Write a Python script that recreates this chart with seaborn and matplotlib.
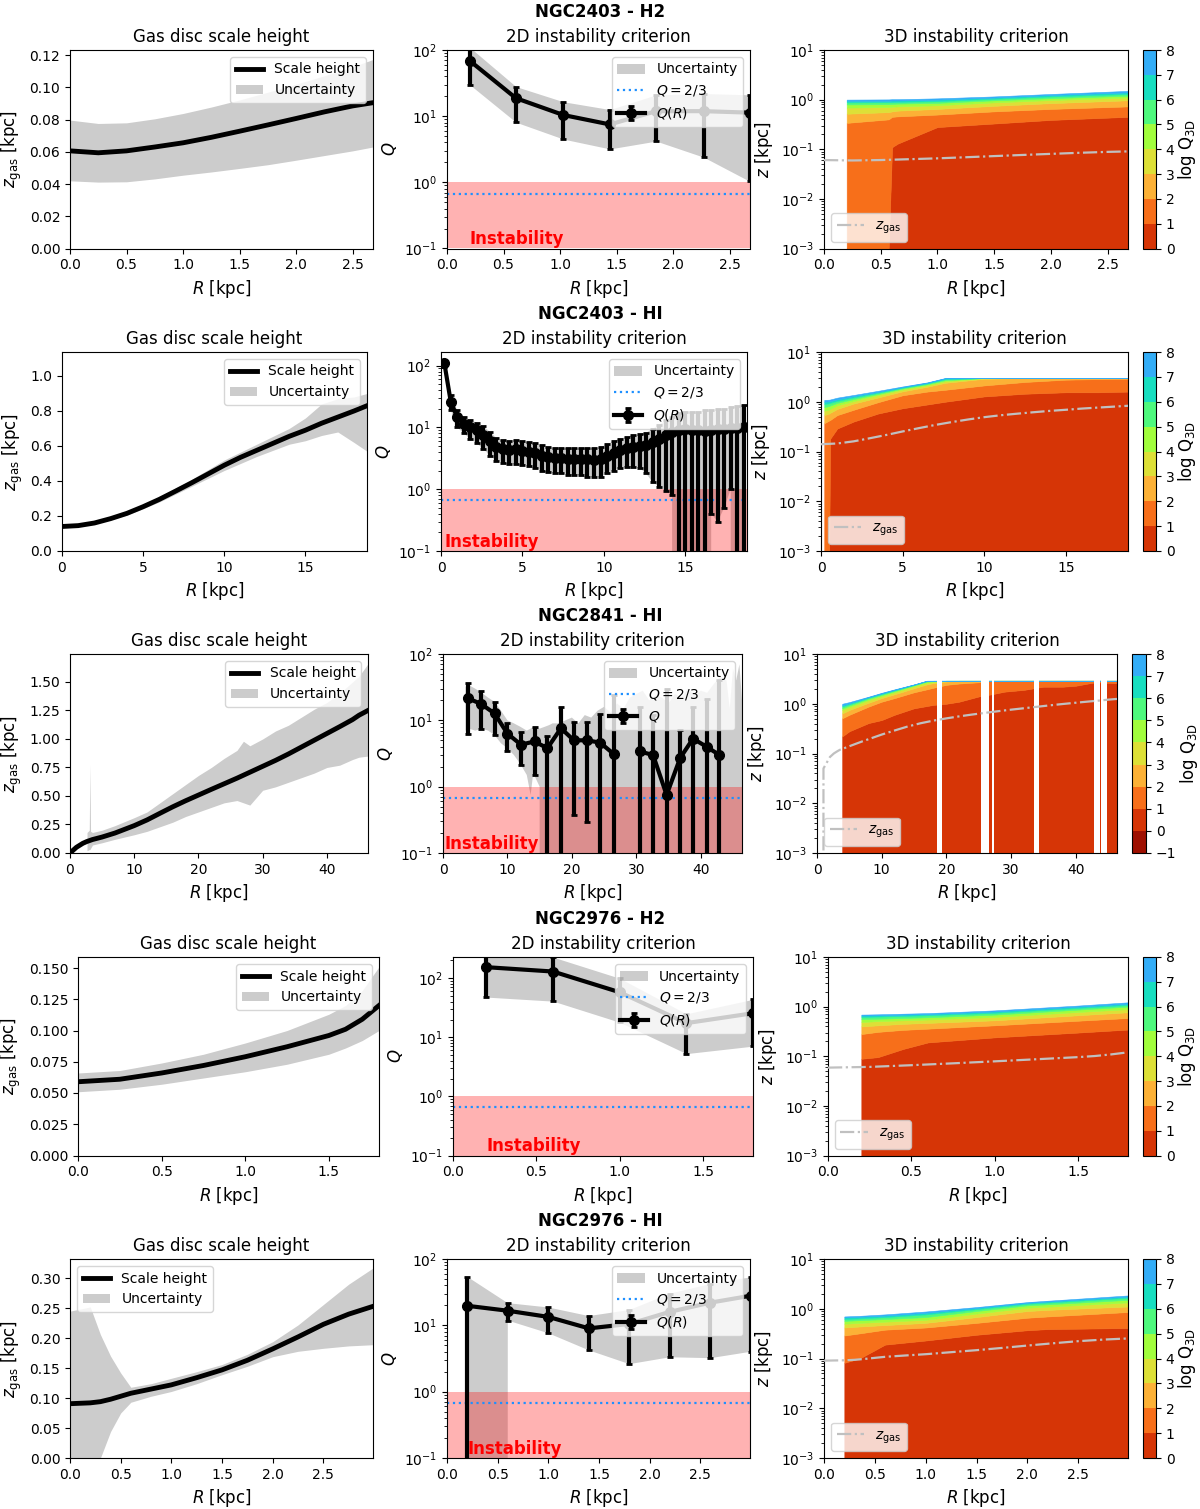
import numpy as np
import matplotlib
matplotlib.use('Agg')
import matplotlib.pyplot as plt
from matplotlib.colors import ListedColormap, BoundaryNorm, Normalize
from matplotlib.cm import ScalarMappable
from matplotlib.ticker import MultipleLocator
import seaborn as sns

plt.rcParams['font.family'] = ['DejaVu Sans']
plt.rcParams['axes.titlesize'] = 12
plt.rcParams['axes.labelsize'] = 12
plt.rcParams['legend.fontsize'] = 10

nan = np.nan

# ---------------------------------------------------------------- NGC2403 - H2
g1_r = [0, 0.25, 0.5, 0.75, 1.0, 1.25, 1.5, 1.75, 2.0, 2.25, 2.5, 2.68]
g1_z = [0.0606, 0.0594, 0.0606, 0.0630, 0.0656, 0.0690, 0.0728, 0.0767, 0.0807, 0.0848, 0.0885, 0.0905]
g1_zhi = [0.0797, 0.0776, 0.0780, 0.0805, 0.0838, 0.0878, 0.0922, 0.0970, 0.1020, 0.1072, 0.1128, 0.1173]
g1_zlo = [0.0420, 0.0412, 0.0414, 0.0432, 0.0455, 0.0475, 0.0497, 0.0520, 0.0548, 0.0577, 0.0606, 0.0630]
g1_qr = [0.2, 0.61, 1.03, 1.44, 1.85, 2.27, 2.68]
g1_q = [69, 18.7, 10.4, 7.5, 11.9, 11.9, 11.3]
g1_qhi = [110, 28, 16.5, 12.6, 21, 22, 21]
g1_qlo = [30, 8.1, 4.5, 3.2, 4.2, 2.4, 1.03]
g1_r3 = [0.2, 0.57, 0.6, 0.65, 1.0, 1.5, 2.0, 2.68]
g1_zlev = [
    [1e-3, 1e-3, 0.11, 0.13, 0.28, 0.33, 0.39, 0.45],
    [0.34, 0.40, 0.45, 0.46, 0.50, 0.58, 0.65, 0.73],
    [0.52, 0.56, 0.58, 0.60, 0.65, 0.75, 0.85, 0.97],
    [0.69, 0.71, 0.72, 0.73, 0.77, 0.88, 0.98, 1.10],
    [0.80, 0.81, 0.82, 0.83, 0.86, 0.97, 1.07, 1.20],
    [0.88, 0.89, 0.89, 0.90, 0.93, 1.04, 1.16, 1.30],
    [0.95, 0.95, 0.96, 0.96, 1.00, 1.10, 1.24, 1.40],
    [1.00, 1.01, 1.02, 1.02, 1.06, 1.16, 1.30, 1.50],
]

# ---------------------------------------------------------------- NGC2403 - HI
g2_r = [0, 1, 2, 3, 4, 5, 6, 7, 8, 9, 10, 11, 12, 13, 14, 15, 16, 17, 18, 18.8]
g2_z = [0.140, 0.145, 0.160, 0.185, 0.215, 0.253, 0.295, 0.342, 0.390, 0.440, 0.490,
        0.535, 0.575, 0.615, 0.655, 0.690, 0.730, 0.765, 0.800, 0.830]
g2_zhi = [0.145, 0.150, 0.170, 0.190, 0.225, 0.265, 0.310, 0.360, 0.410, 0.465, 0.520,
          0.565, 0.610, 0.655, 0.700, 0.760, 0.840, 0.870, 0.880, 0.900]
g2_zlo = [0.135, 0.140, 0.155, 0.180, 0.205, 0.242, 0.280, 0.325, 0.370, 0.415, 0.460,
          0.500, 0.540, 0.575, 0.610, 0.630, 0.660, 0.680, 0.620, 0.570]
g2_qr = [0.2, 0.6, 1.0, 1.4, 1.8, 2.2, 2.6, 3.0, 3.4, 3.8, 4.2, 4.6, 5.0, 5.4, 5.8, 6.2,
         6.6, 7.0, 7.4, 7.8, 8.2, 8.6, 9.0, 9.4, 9.8, 10.2, 10.6, 11.0, 11.4, 11.8, 12.2,
         12.6, 13.0, 13.4, 13.8, 14.2, 14.6, 15.0, 15.4, 15.8, 16.2, 16.6, 17.0, 17.4,
         17.8, 18.2, 18.6]
g2_q = [112, 26, 14.5, 11.5, 10, 9, 7.5, 6, 4.8, 4.4, 4.3, 4.4, 4.2, 4.0, 3.8, 3.5,
        3.3, 3.2, 3.2, 3.1, 3.1, 3.1, 3.1, 3.0, 3.1, 3.4, 3.9, 4.3, 4.6, 4.8, 5.0,
        5.2, 5.8, 6.5, 7.6, 8.4, 9.0, 9.3, 9.2, 9.0, 8.9, 9.2, 9.4, 9.5,
        9.6, 9.8, 10.0]
g2_qhi = [125, 33, 19, 15, 13, 12, 10.5, 8.5, 6.8, 6.2, 6.1, 6.3, 6.0, 5.8, 5.5, 5.1,
          4.8, 4.7, 4.7, 4.6, 4.6, 4.6, 4.7, 4.6, 4.8, 5.3, 6.0, 6.6, 7.0, 7.4, 7.8,
          8.2, 9.5, 11, 13, 15, 17, 18, 18, 18, 19, 19, 20, 20,
          21, 22, 23]
g2_qlo = [95, 19, 10, 8, 6.5, 5.5, 4.5, 3.5, 2.9, 2.7, 2.6, 2.6, 2.5, 2.4, 2.2, 2.0,
          1.9, 1.8, 1.8, 1.7, 1.7, 1.7, 1.6, 1.6, 1.6, 1.8, 2.0, 2.2, 2.3, 2.3, 2.2,
          1.8, 1.3, 1.1, 0.95, 0.8, -1, -1, -1, -1, -1, 0.4, 0.3, 0.5,
          1.0, -1, -1]
g2_r3 = [0.2, 0.5, 0.56, 1.0, 2.0, 3.5, 5.0, 6.5, 7.6, 10.0, 12.5, 15.0, 17.0, 18.8]
g2_zlev = [
    [1e-3, 1e-3, 0.18, 0.29, 0.40, 0.58, 0.74, 0.88, 1.00, 1.28, 1.45, 1.55, 1.55, 1.60],
    [0.37, 0.42, 0.43, 0.54, 0.69, 0.98, 1.35, 1.60, 1.74, 2.13, 2.50, 2.78, 2.85, 2.90],
    [0.54, 0.58, 0.60, 0.72, 0.92, 1.22, 1.62, 2.00, 2.40, 2.90, 3.0, 3.0, 3.0, 3.0],
    [0.66, 0.70, 0.72, 0.85, 1.03, 1.36, 1.76, 2.15, 2.58, 3.0, 3.0, 3.0, 3.0, 3.0],
    [0.78, 0.82, 0.84, 0.95, 1.13, 1.44, 1.85, 2.25, 2.72, 3.0, 3.0, 3.0, 3.0, 3.0],
    [0.90, 0.93, 0.95, 1.04, 1.22, 1.52, 1.92, 2.33, 2.85, 3.0, 3.0, 3.0, 3.0, 3.0],
    [1.00, 1.02, 1.03, 1.12, 1.30, 1.58, 1.97, 2.40, 2.95, 3.0, 3.0, 3.0, 3.0, 3.0],
    [1.09, 1.10, 1.11, 1.21, 1.37, 1.66, 2.03, 2.45, 3.0, 3.0, 3.0, 3.0, 3.0, 3.0],
]

# ---------------------------------------------------------------- NGC2841 - HI
g3_r = [0, 1, 2, 2.6, 2.65, 3.0, 3.1, 3.2, 3.5, 5, 7, 10, 12, 14, 16, 18, 20, 22, 24,
        26, 27, 28, 30, 32, 34, 36, 38, 40, 42, 44, 45, 46.4]
g3_z = [0.0, 0.05, 0.085, 0.100, 0.101, 0.108, 0.110, 0.112, 0.118, 0.140, 0.175, 0.240,
        0.290, 0.348, 0.405, 0.458, 0.508, 0.558, 0.607, 0.656, 0.682, 0.708, 0.760,
        0.812, 0.868, 0.928, 0.988, 1.048, 1.108, 1.170, 1.208, 1.250]
g3_zhi = [nan, nan, nan, nan, 0.18, 0.20, 0.78, 0.19, 0.18, 0.20, 0.24, 0.31, 0.36, 0.44,
          0.52, 0.60, 0.68, 0.75, 0.83, 0.90, 0.98, 0.94, 1.00, 1.07, 1.12, 1.19, 1.26,
          1.32, 1.40, 1.50, 1.55, 1.66]
g3_zlo = [nan, nan, nan, nan, 0.02, 0.03, 0.03, 0.04, 0.07, 0.09, 0.12, 0.16, 0.19, 0.23,
          0.27, 0.32, 0.36, 0.40, 0.44, 0.46, 0.44, 0.42, 0.55, 0.58, 0.62, 0.66, 0.70,
          0.75, 0.77, 0.82, 0.84, 0.85]
g3_qr = [3.85, 5.9, 8.0, 10.0, 12.1, 14.2, 16.2, 18.3, 20.3, 22.4, 24.4, 26.5, 28.5,
         30.5, 32.6, 34.7, 36.8, 38.8, 40.9, 42.9]
g3_q = [21.5, 17.7, 12.7, 6.3, 4.3, 4.8, 3.8, 7.6, 5.0, 5.0, 4.6, 3.1, nan,
        3.4, 3.0, 0.75, 2.7, 5.3, 4.0, 3.0]
g3_qhi = [36, 27.7, 19, 9, 6.6, 7.9, 5.8, 16, 9.5, 9.5, 12.5, 24, nan,
          16, 12, 30, 7.1, 16, 21, 40]
g3_qlo = [6.2, 7.3, 6.0, 3.5, 2.1, 1.5, -1, -1, 0.37, 0.29, -1, -1, nan,
          -1, -1, -1, -1, -1, -1, -1]
g3_br = [3.5, 4, 5, 6, 7, 8, 9, 10, 11, 12, 13, 13.6, 14, 15, 15.8, 16.5, 17, 18, 19, 20,
         21, 22, 23, 24, 25, 26, 27, 28, 29, 30, 31, 32, 33, 34, 35, 36, 37, 38, 39, 40,
         41, 42, 43, 44, 44.5, 45, 45.5, 46, 46.4]
g3_bhi = [32, 34, 30, 26, 22, 19, 14, 10, 9, 8, 7, 7.5, 8, 7.5, 8, 8.5, 9, 9, 10, 11,
          9, 12, 11, 14, 16, 13, 18, 15, 22, 25, 28, 20, 24, 22, 18, 25, 22, 30, 24, 28,
          26, 35, 45, 40, 15, 60, 40, 70, 20]
g3_blo = [7, 7.5, 7, 7.5, 7, 6, 4.5, 3.8, 3, 2.2, 1.5, 0.75, 1.6, 1.0, -1, -1, -1, -1, -1, -1,
          -1, -1, -1, -1, -1, -1, -1, -1, -1, -1, -1, -1, -1, -1, -1, -1, -1, -1, -1, -1,
          -1, -1, -1, -1, -1, -1, -1, -1, -1]
g3_r3 = [3.9, 5, 8, 10, 12, 15, 17, 18, 20, 22, 25, 27, 29, 32, 35, 38, 40, 43, 46.4]
g3_zlev = [
    [0.22, 0.28, 0.41, 0.47, 0.60, 0.81, 0.90, 0.95, 1.00, 1.10, 1.40, 1.55, 1.75, 1.90, 2.20, 2.20, 2.30, 2.70, 2.60],
    [0.51, 0.60, 0.88, 1.10, 1.30, 1.70, 1.95, 2.10, 2.40, 2.55, 2.70, 2.9, 2.9, 2.9, 2.9, 2.9, 2.9, 2.9, 2.9],
    [0.64, 0.75, 1.05, 1.30, 1.55, 2.05, 2.45, 2.60, 2.80, 2.9, 2.9, 2.9, 2.9, 2.9, 2.9, 2.9, 2.9, 2.9, 2.9],
    [0.75, 0.85, 1.18, 1.42, 1.70, 2.25, 2.65, 2.75, 2.9, 2.9, 2.9, 2.9, 2.9, 2.9, 2.9, 2.9, 2.9, 2.9, 2.9],
    [0.81, 0.92, 1.26, 1.50, 1.80, 2.35, 2.80, 2.85, 2.9, 2.9, 2.9, 2.9, 2.9, 2.9, 2.9, 2.9, 2.9, 2.9, 2.9],
    [0.88, 0.98, 1.32, 1.57, 1.86, 2.40, 2.85, 2.9, 2.9, 2.9, 2.9, 2.9, 2.9, 2.9, 2.9, 2.9, 2.9, 2.9, 2.9],
    [0.93, 1.03, 1.36, 1.62, 1.91, 2.43, 2.9, 2.9, 2.9, 2.9, 2.9, 2.9, 2.9, 2.9, 2.9, 2.9, 2.9, 2.9, 2.9],
    [1.00, 1.08, 1.39, 1.66, 1.95, 2.45, 2.9, 2.9, 2.9, 2.9, 2.9, 2.9, 2.9, 2.9, 2.9, 2.9, 2.9, 2.9, 2.9],
]
g3_gaps = [(18.5, 19.3), (25.4, 26.6), (27.0, 27.4), (33.6, 34.3), (42.8, 43.7), (44.0, 44.9)]

# ---------------------------------------------------------------- NGC2976 - H2
g4_r = [0, 0.25, 0.5, 0.75, 1.0, 1.25, 1.5, 1.6, 1.7, 1.8]
g4_z = [0.059, 0.061, 0.066, 0.072, 0.079, 0.087, 0.096, 0.101, 0.109, 0.120]
g4_zhi = [0.066, 0.068, 0.074, 0.081, 0.090, 0.100, 0.113, 0.120, 0.132, 0.151]
g4_zlo = [0.051, 0.053, 0.057, 0.062, 0.067, 0.073, 0.081, 0.086, 0.092, 0.100]
g4_qr = [0.2, 0.6, 1.0, 1.4, 1.8]
g4_q = [154, 130, 58, 17.4, 25.6]
g4_qhi = [260, 228, 100, 25, 44]
g4_qlo = [48, 41, 18, 5.3, 7.1]
g4_r3 = [0.2, 0.3, 0.45, 0.6, 1.0, 1.5, 1.8]
g4_zlev = [
    [0.089, 0.096, 0.14, 0.19, 0.24, 0.30, 0.345],
    [0.28, 0.31, 0.34, 0.36, 0.42, 0.52, 0.59],
    [0.40, 0.42, 0.45, 0.47, 0.53, 0.67, 0.77],
    [0.49, 0.51, 0.53, 0.55, 0.62, 0.78, 0.89],
    [0.56, 0.57, 0.59, 0.61, 0.69, 0.87, 1.00],
    [0.62, 0.63, 0.65, 0.67, 0.75, 0.94, 1.08],
    [0.66, 0.67, 0.69, 0.71, 0.80, 1.00, 1.15],
    [0.69, 0.70, 0.72, 0.74, 0.84, 1.05, 1.22],
]

# ---------------------------------------------------------------- NGC2976 - HI
g5_r = [0, 0.2, 0.3, 0.4, 0.5, 0.6, 0.8, 1.0, 1.25, 1.5, 1.75, 2.0, 2.25, 2.5, 2.75, 2.99]
g5_z = [0.0906, 0.092, 0.094, 0.098, 0.103, 0.108, 0.115, 0.122, 0.134, 0.147, 0.163,
        0.182, 0.202, 0.223, 0.240, 0.253]
g5_zhi = [0.245, 0.252, 0.206, 0.170, 0.142, 0.118, 0.124, 0.133, 0.144, 0.156, 0.173,
          0.194, 0.222, 0.256, 0.290, 0.317]
g5_zlo = [0.0, 0.0, 0.0, 0.044, 0.075, 0.093, 0.103, 0.111, 0.124, 0.139, 0.153,
          0.169, 0.178, 0.183, 0.187, 0.189]
g5_qr = [0.2, 0.6, 1.0, 1.4, 1.8, 2.2, 2.6, 3.0]
g5_q = [19.7, 16.6, 13.4, 9.0, 10.5, 16, 22, 28]
g5_qhi = [54, 21.6, 18.6, 13.8, 17, 30, 42, 53]
g5_qlo = [-20, 11.8, 7.6, 4.2, 2.6, 3.3, 3.2, 4.0]
g5_r3 = [0.2, 0.35, 0.6, 1.0, 1.5, 2.0, 2.2, 2.99]
g5_zlev = [
    [0.082, 0.10, 0.19, 0.23, 0.30, 0.37, 0.39, 0.41],
    [0.29, 0.32, 0.38, 0.42, 0.52, 0.66, 0.70, 0.86],
    [0.42, 0.44, 0.47, 0.52, 0.68, 0.90, 0.95, 1.11],
    [0.50, 0.52, 0.55, 0.60, 0.80, 1.05, 1.10, 1.34],
    [0.57, 0.59, 0.62, 0.68, 0.90, 1.17, 1.23, 1.51],
    [0.62, 0.64, 0.68, 0.77, 0.98, 1.26, 1.33, 1.66],
    [0.67, 0.69, 0.73, 0.83, 1.04, 1.32, 1.40, 1.76],
    [0.70, 0.72, 0.77, 0.88, 1.08, 1.36, 1.45, 1.85],
]

cbar_levels = [0, 1, 2, 3, 4, 5, 6, 7, 8]
cbar_levels_ext = [-1, 0, 1, 2, 3, 4, 5, 6, 7, 8]

turbo = plt.get_cmap('turbo_r')
cnorm = Normalize(-1, 10)


def band_color(k):
    return turbo(cnorm(k + 0.5))


def height_panel(ax, r, z, zhi, zlo, ytop, ystep, xstep, loc):
    band = ax.fill_between(r, np.array(zlo, float), np.array(zhi, float),
                           color='gray', alpha=0.4, lw=0)
    sns.lineplot(x=r, y=z, ax=ax, color='k', lw=3.5, errorbar=None)
    ax.set_xlim(0, r[-1])
    ax.set_ylim(0, ytop)
    ax.yaxis.set_major_locator(MultipleLocator(ystep))
    ax.xaxis.set_major_locator(MultipleLocator(xstep))
    ax.legend([ax.lines[0], band], ['Scale height', 'Uncertainty'], loc=loc)
    ax.set_title('Gas disc scale height')
    ax.set_xlabel(r'$R$ [kpc]')
    ax.set_ylabel(r'$z_{\rm gas}$ [kpc]')


def q2d_panel(ax, qr, q, qhi, qlo, br, bhi, blo, ytop, xmax, xstep, qlab):
    ax.set_yscale('log')
    band = ax.fill_between(br, np.array(blo, float), np.array(bhi, float),
                           color='gray', alpha=0.4, lw=0)
    ax.axhspan(0.1, 1, color='red', alpha=0.3, lw=0)
    dot = ax.axhline(2 / 3, color='dodgerblue', ls=':', lw=1.6)
    q = np.array(q, float)
    err = [q - np.array(qlo, float), np.array(qhi, float) - q]
    eb = ax.errorbar(qr, q, yerr=err, fmt='-o', color='k', lw=3, ms=7,
                     elinewidth=3, capsize=2, capthick=2)
    ax.text(0.2, 0.101, 'Instability', color='red', fontweight='bold',
            fontsize=12, va='bottom', ha='left')
    ax.set_xlim(0, xmax)
    ax.set_ylim(0.1, ytop)
    ax.xaxis.set_major_locator(MultipleLocator(xstep))
    ax.legend([band, dot, eb], ['Uncertainty', r'$Q = 2/3$', qlab], loc='upper right')
    ax.set_title('2D instability criterion')
    ax.set_xlabel(r'$R$ [kpc]')
    ax.set_ylabel(r'$Q$')


def q3d_panel(fig, ax, cax, r3, zlev, levels, gaps, rz, z, xmax, xstep):
    sns.lineplot(x=rz, y=z, ax=ax, color='silver', lw=1.6, linestyle='-.',
                 errorbar=None, zorder=4)
    zline = ax.lines[-1]
    ax.set_yscale('log')
    edges = [np.full(len(r3), 1e-3)] + [np.array(b, float) for b in zlev]
    for k in range(8):
        c = band_color(k)
        ax.fill_between(r3, edges[k], edges[k + 1], facecolor=c, edgecolor=c, lw=0.4)
    for a, b in gaps:
        ax.axvspan(a, b, color='white', lw=0, zorder=2)
    ax.legend([zline], [r'$z_{\rm gas}$'], loc='lower left')
    ax.set_xlim(0, xmax)
    ax.set_ylim(1e-3, 10)
    ax.xaxis.set_major_locator(MultipleLocator(xstep))
    ax.set_title('3D instability criterion')
    ax.set_xlabel(r'$R$ [kpc]')
    ax.set_ylabel(r'$z$ [kpc]')
    cols = [band_color(k) for k in levels[:-1]]
    sm = ScalarMappable(norm=BoundaryNorm(levels, len(cols)), cmap=ListedColormap(cols))
    cb = fig.colorbar(sm, cax=cax, ticks=levels)
    cb.set_label(r'log Q$_{\rm 3D}$', labelpad=1)


W, H = 1200, 1509
fig = plt.figure(figsize=(W / 100, H / 100), dpi=100)


def box(x0, x1, top, bot):
    return [x0 / W, 1 - bot / H, (x1 - x0) / W, (bot - top) / H]


# layout per row: title, top, bottom, left/mid/right/cbar x-extents
layout = [
    ('NGC2403 - H2', 50, 248.5, (70, 373), (447, 750), (824, 1128), (1143, 1156)),
    ('NGC2403 - HI', 352, 551, (62, 367), (441, 747), (821, 1128), (1143, 1156)),
    ('NGC2841 - HI', 654, 853, (70, 368), (443, 742), (817, 1117), (1132, 1146)),
    ('NGC2976 - H2', 957, 1155.5, (78, 379), (453, 753), (828, 1128), (1143, 1156)),
    ('NGC2976 - HI', 1259, 1458, (70, 373), (447, 750), (824, 1128), (1143, 1156)),
]

axes = []
for title, top, bot, xl, xm, xr, xc in layout:
    a1 = fig.add_axes(box(*xl, top, bot))
    a2 = fig.add_axes(box(*xm, top, bot))
    a3 = fig.add_axes(box(*xr, top, bot))
    a4 = fig.add_axes(box(*xc, top, bot))
    fig.text(0.5, 1 - (top - 38) / H, title, ha='center', va='center',
             fontsize=12, fontweight='bold')
    axes.append((a1, a2, a3, a4))

# row 1
a1, a2, a3, a4 = axes[0]
height_panel(a1, g1_r, g1_z, g1_zhi, g1_zlo, 0.1232, 0.02, 0.5, 'upper right')
q2d_panel(a2, g1_qr, g1_q, g1_qhi, g1_qlo, g1_qr, g1_qhi, g1_qlo, 100, 2.68, 0.5, r'$Q(R)$')
q3d_panel(fig, a3, a4, g1_r3, g1_zlev, cbar_levels, [], g1_r, g1_z, 2.68, 0.5)

# row 2
a1, a2, a3, a4 = axes[1]
height_panel(a1, g2_r, g2_z, g2_zhi, g2_zlo, 1.137, 0.2, 5, 'upper right')
q2d_panel(a2, g2_qr, g2_q, g2_qhi, g2_qlo, g2_qr, g2_qhi, g2_qlo, 166, 18.8, 5, r'$Q(R)$')
q3d_panel(fig, a3, a4, g2_r3, g2_zlev, cbar_levels, [], g2_r, g2_z, 18.8, 5)

# row 3
a1, a2, a3, a4 = axes[2]
height_panel(a1, g3_r, g3_z, g3_zhi, g3_zlo, 1.745, 0.25, 10, 'upper right')
q2d_panel(a2, g3_qr, g3_q, g3_qhi, g3_qlo, g3_br, g3_bhi, g3_blo, 100, 46.4, 10, r'$Q$')
q3d_panel(fig, a3, a4, g3_r3, g3_zlev, cbar_levels_ext, g3_gaps, g3_r, g3_z, 46.4, 10)

# row 4
a1, a2, a3, a4 = axes[3]
height_panel(a1, g4_r, g4_z, g4_zhi, g4_zlo, 0.1588, 0.025, 0.5, 'upper right')
q2d_panel(a2, g4_qr, g4_q, g4_qhi, g4_qlo, g4_qr, g4_qhi, g4_qlo, 229, 1.8, 0.5, r'$Q(R)$')
q3d_panel(fig, a3, a4, g4_r3, g4_zlev, cbar_levels, [], g4_r, g4_z, 1.8, 0.5)

# row 5
a1, a2, a3, a4 = axes[4]
height_panel(a1, g5_r, g5_z, g5_zhi, g5_zlo, 0.332, 0.05, 0.5, 'upper left')
q2d_panel(a2, g5_qr, g5_q, g5_qhi, g5_qlo, g5_qr, g5_qhi, g5_qlo, 100, 2.99, 0.5, r'$Q(R)$')
q3d_panel(fig, a3, a4, g5_r3, g5_zlev, cbar_levels, [], g5_r, g5_z, 2.99, 0.5)

fig.savefig('out.png', dpi=100)
plt.close(fig)
